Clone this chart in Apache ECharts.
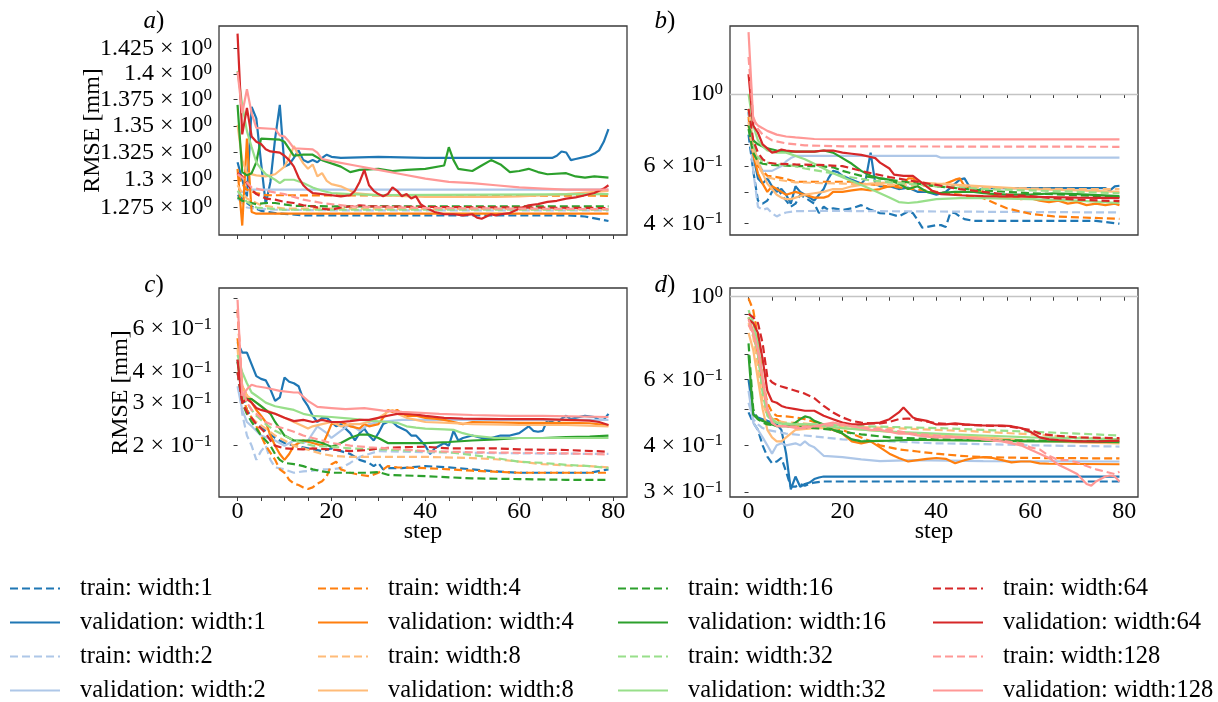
<!DOCTYPE html>
<html><head><meta charset="utf-8">
<script src="https://cdn.jsdelivr.net/npm/echarts@6/dist/echarts.min.js"></script>
<style>html,body{margin:0;padding:0;background:#fff}#chart{width:1218px;height:702px}</style>
</head><body><div id="chart"></div><script>
// ---------------- data: [step, RMSE] ----------------
// panel a
const A_T1=[[0,1.286],[1,1.283],[2,1.279],[3,1.276],[5,1.272],[8,1.270],[14,1.268],[40,1.268],[70,1.268],[74,1.267],[79,1.263]];
const A_V1=[[0,1.316],[1,1.300],[2,1.285],[3,1.368],[4,1.357],[5,1.316],[6,1.278],[7,1.298],[8,1.338],[9,1.370],[10,1.312],[11,1.314],[12,1.320],[13,1.327],[14,1.318],[15,1.316],[16,1.318],[17,1.316],[18,1.320],[19,1.323],[20,1.321],[22,1.320],[30,1.321],[40,1.320],[50,1.320],[60,1.320],[67,1.320],[68,1.322],[69,1.326],[70,1.325],[71,1.318],[72,1.319],[74,1.321],[75,1.322],[76,1.324],[77,1.327],[78,1.335],[79,1.347]];
const A_T2=[[0,1.283],[1,1.279],[2,1.275],[4,1.274],[8,1.273],[20,1.2725],[79,1.2725]];
const A_V2=[[0,1.288],[1,1.289],[2,1.290],[3,1.291],[79,1.291]];
const A_T4=[[0,1.305],[1,1.296],[2,1.291],[4,1.288],[6,1.286],[79,1.2855]];
const A_V4=[[0,1.310],[1,1.259],[2,1.338],[3,1.271],[4,1.2695],[79,1.2695]];
const A_T8=[[0,1.295],[1,1.288],[2,1.283],[5,1.277],[10,1.274],[79,1.2735]];
const A_V8=[[0,1.351],[1,1.318],[2,1.306],[4,1.304],[6,1.303],[8,1.305],[10,1.312],[11,1.320],[12,1.331],[13,1.322],[14,1.315],[15,1.310],[16,1.314],[17,1.303],[18,1.306],[19,1.299],[20,1.296],[22,1.294],[25,1.288],[30,1.286],[40,1.2845],[55,1.2845],[60,1.285],[70,1.287],[79,1.290]];
const A_T16=[[0,1.284],[1,1.281],[2,1.280],[4,1.278],[6,1.279],[8,1.279],[12,1.2765],[20,1.276],[79,1.276]];
const A_V16=[[0,1.370],[1,1.307],[2,1.304],[3,1.306],[4,1.316],[5,1.338],[9,1.337],[10,1.335],[12,1.322],[14,1.323],[16,1.323],[18,1.318],[20,1.315],[22,1.312],[24,1.307],[26,1.309],[30,1.310],[33,1.308],[36,1.309],[40,1.310],[44,1.313],[45,1.330],[46,1.318],[47,1.310],[50,1.308],[52,1.313],[54,1.318],[56,1.314],[58,1.307],[60,1.308],[62,1.310],[64,1.307],[66,1.305],[70,1.306],[72,1.303],[74,1.302],[76,1.303],[79,1.302]];
const A_T32=[[0,1.290],[2,1.280],[4,1.275],[10,1.273],[79,1.273]];
const A_V32=[[0,1.403],[1,1.370],[2,1.345],[3,1.330],[4,1.316],[5,1.310],[6,1.305],[8,1.300],[9,1.297],[10,1.300],[12,1.300],[14,1.297],[16,1.293],[18,1.290],[20,1.288],[24,1.287],[30,1.286],[79,1.287]];
const A_T64=[[0,1.306],[1,1.303],[2,1.297],[3,1.291],[4,1.287],[5,1.285],[6,1.283],[8,1.282],[10,1.280],[12,1.279],[14,1.277],[16,1.276],[18,1.274],[20,1.273],[22,1.275],[26,1.277],[28,1.276],[40,1.2755],[79,1.2745]];
const A_V64=[[0,1.440],[1,1.342],[2,1.367],[3,1.340],[4,1.335],[5,1.333],[6,1.328],[7,1.326],[9,1.325],[10,1.322],[11,1.318],[12,1.312],[13,1.302],[14,1.295],[15,1.291],[16,1.288],[18,1.287],[20,1.286],[22,1.285],[24,1.286],[25,1.290],[26,1.298],[27,1.309],[28,1.295],[29,1.290],[30,1.287],[31,1.285],[32,1.287],[33,1.293],[34,1.290],[35,1.285],[36,1.287],[37,1.283],[38,1.285],[39,1.278],[40,1.275],[42,1.271],[44,1.269],[46,1.269],[48,1.268],[50,1.269],[51,1.266],[52,1.265],[53,1.267],[54,1.269],[55,1.268],[56,1.269],[58,1.270],[60,1.274],[62,1.277],[64,1.278],[66,1.280],[68,1.281],[70,1.283],[72,1.284],[74,1.286],[76,1.288],[78,1.292],[79,1.295]];
const A_T128=[[0,1.305],[1,1.302],[3,1.293],[6,1.290],[10,1.287],[14,1.282],[18,1.279],[24,1.276],[40,1.2745],[79,1.2735]];
const A_V128=[[0,1.402],[1,1.362],[2,1.385],[3,1.362],[4,1.348],[8,1.347],[9,1.341],[10,1.340],[11,1.335],[12,1.329],[16,1.328],[17,1.325],[18,1.319],[20,1.317],[25,1.313],[30,1.309],[35,1.305],[40,1.301],[45,1.298],[50,1.297],[55,1.295],[60,1.293],[65,1.292],[70,1.291],[79,1.291]];
// panel b
const B_T1=[[0,0.75],[1,0.58],[2,0.47],[3,0.46],[4,0.47],[5,0.50],[6,0.52],[7,0.49],[8,0.47],[9,0.45],[10,0.46],[11,0.49],[12,0.48],[13,0.47],[14,0.46],[15,0.43],[16,0.45],[17,0.44],[18,0.445],[20,0.44],[22,0.445],[24,0.455],[26,0.44],[28,0.43],[30,0.428],[32,0.42],[34,0.435],[35,0.43],[36,0.41],[37,0.388],[38,0.39],[40,0.395],[41,0.395],[42,0.39],[43,0.432],[44,0.43],[45,0.42],[46,0.412],[48,0.407],[60,0.407],[74,0.407],[79,0.399]];
const B_V1=[[0,0.88],[1,0.645],[2,0.55],[3,0.53],[4,0.55],[5,0.52],[6,0.50],[7,0.51],[8,0.49],[9,0.46],[10,0.52],[11,0.50],[12,0.49],[13,0.48],[14,0.47],[15,0.49],[16,0.51],[17,0.55],[18,0.58],[19,0.575],[20,0.56],[22,0.545],[24,0.53],[25,0.55],[26,0.66],[27,0.53],[28,0.52],[30,0.52],[32,0.51],[34,0.515],[36,0.50],[38,0.50],[40,0.49],[42,0.50],[44,0.53],[45,0.545],[46,0.55],[47,0.52],[48,0.50],[50,0.513],[60,0.513],[76,0.513],[77,0.505],[78,0.52],[79,0.522]];
const B_T2=[[0,0.84],[1,0.58],[2,0.45],[3,0.44],[4,0.445],[5,0.43],[6,0.42],[7,0.427],[8,0.432],[10,0.436],[15,0.437],[40,0.435],[79,0.432]];
const B_V2=[[0,0.88],[1,0.70],[2,0.62],[3,0.58],[5,0.58],[7,0.60],[8,0.62],[9,0.635],[10,0.645],[40,0.645],[41,0.637],[79,0.637]];
const B_T4=[[0,0.85],[1,0.66],[2,0.60],[4,0.56],[6,0.555],[8,0.548],[10,0.537],[22,0.537],[24,0.53],[30,0.52],[40,0.50],[45,0.49],[50,0.478],[55,0.445],[60,0.428],[65,0.42],[79,0.413]];
const B_V4=[[0,0.80],[1,0.65],[2,0.57],[3,0.53],[4,0.50],[5,0.52],[6,0.51],[7,0.50],[8,0.49],[10,0.50],[12,0.49],[14,0.48],[16,0.48],[17,0.485],[18,0.50],[20,0.50],[22,0.505],[24,0.51],[26,0.505],[28,0.51],[30,0.52],[33,0.525],[34,0.55],[35,0.55],[36,0.535],[38,0.52],[40,0.525],[42,0.53],[44,0.545],[45,0.55],[46,0.52],[48,0.505],[50,0.50],[52,0.49],[54,0.48],[56,0.485],[58,0.475],[60,0.478],[62,0.47],[64,0.465],[66,0.47],[68,0.46],[70,0.465],[72,0.455],[74,0.46],[76,0.455],[78,0.46],[79,0.455]];
const B_T8=[[0,0.82],[1,0.66],[2,0.60],[3,0.57],[4,0.555],[6,0.545],[8,0.54],[10,0.535],[20,0.53],[30,0.525],[40,0.52],[50,0.515],[60,0.512],[70,0.51],[79,0.51]];
const B_V8=[[0,0.90],[1,0.70],[2,0.62],[3,0.57],[4,0.53],[5,0.51],[6,0.49],[7,0.48],[8,0.475],[9,0.475],[10,0.48],[12,0.49],[14,0.495],[16,0.50],[18,0.51],[20,0.51],[22,0.52],[24,0.525],[26,0.53],[30,0.535],[36,0.535],[40,0.53],[50,0.52],[60,0.51],[70,0.505],[79,0.50]];
const B_T16=[[0,0.78],[1,0.66],[2,0.62],[3,0.61],[5,0.605],[10,0.60],[15,0.60],[18,0.595],[20,0.58],[24,0.56],[28,0.55],[32,0.54],[40,0.52],[50,0.505],[60,0.495],[70,0.488],[79,0.482]];
const B_V16=[[0,0.80],[1,0.72],[2,0.70],[3,0.69],[4,0.68],[6,0.67],[8,0.665],[14,0.665],[16,0.67],[18,0.66],[20,0.635],[22,0.61],[24,0.58],[26,0.56],[28,0.55],[30,0.545],[32,0.53],[34,0.51],[36,0.52],[38,0.50],[40,0.495],[44,0.50],[48,0.50],[50,0.495],[55,0.49],[60,0.49],[65,0.495],[70,0.492],[79,0.485]];
const B_T32=[[0,0.90],[1,0.70],[2,0.64],[3,0.62],[5,0.61],[8,0.605],[10,0.60],[12,0.59],[15,0.58],[18,0.57],[20,0.56],[25,0.545],[30,0.535],[40,0.52],[50,0.51],[60,0.505],[70,0.50],[79,0.495]];
const B_V32=[[0,1.0],[1,0.80],[2,0.72],[3,0.69],[4,0.67],[6,0.66],[8,0.66],[10,0.645],[12,0.63],[14,0.61],[16,0.59],[18,0.57],[20,0.555],[22,0.54],[24,0.525],[26,0.51],[28,0.495],[30,0.48],[32,0.465],[34,0.462],[36,0.465],[38,0.47],[40,0.475],[45,0.478],[50,0.478],[60,0.475],[70,0.47],[79,0.462]];
const B_T64=[[0,0.90],[1,0.72],[2,0.66],[3,0.63],[4,0.615],[6,0.61],[10,0.607],[15,0.605],[20,0.60],[22,0.59],[25,0.575],[30,0.555],[35,0.54],[40,0.525],[45,0.51],[50,0.50],[55,0.49],[60,0.485],[65,0.478],[70,0.473],[79,0.468]];
const B_V64=[[0,1.15],[1,0.80],[2,0.76],[3,0.70],[4,0.68],[5,0.66],[6,0.665],[7,0.675],[8,0.67],[10,0.665],[14,0.665],[16,0.67],[18,0.67],[20,0.66],[22,0.655],[24,0.65],[26,0.64],[27,0.635],[28,0.615],[30,0.59],[31,0.565],[33,0.56],[35,0.56],[37,0.532],[39,0.505],[41,0.492],[45,0.488],[50,0.485],[60,0.483],[70,0.48],[79,0.478]];
const B_T128=[[0,1.30],[1,0.85],[2,0.78],[3,0.75],[5,0.72],[8,0.705],[12,0.695],[20,0.69],[79,0.688]];
const B_V128=[[0,1.55],[1,0.83],[2,0.80],[3,0.785],[4,0.77],[6,0.75],[8,0.74],[10,0.735],[14,0.727],[20,0.725],[79,0.725]];
// panel c
const C_T1=[[0,0.45],[1,0.32],[2,0.28],[3,0.26],[4,0.245],[6,0.23],[8,0.215],[10,0.205],[12,0.20],[15,0.195],[18,0.19],[20,0.195],[22,0.19],[24,0.185],[26,0.175],[28,0.17],[29,0.165],[30,0.17],[31,0.16],[32,0.162],[35,0.162],[40,0.165],[45,0.163],[50,0.16],[55,0.157],[60,0.155],[70,0.155],[75,0.155],[79,0.16]];
const C_V1=[[0,0.53],[1,0.48],[2,0.48],[3,0.43],[4,0.385],[5,0.375],[6,0.37],[7,0.34],[8,0.305],[9,0.315],[10,0.38],[11,0.365],[12,0.36],[13,0.35],[14,0.31],[15,0.29],[16,0.265],[17,0.25],[18,0.26],[19,0.26],[20,0.25],[21,0.24],[22,0.245],[24,0.225],[25,0.21],[26,0.225],[27,0.235],[28,0.22],[29,0.21],[30,0.225],[31,0.245],[32,0.25],[33,0.25],[34,0.24],[35,0.235],[36,0.23],[37,0.22],[38,0.22],[39,0.21],[40,0.20],[41,0.185],[42,0.195],[43,0.20],[44,0.205],[45,0.20],[46,0.23],[47,0.21],[48,0.215],[50,0.22],[52,0.215],[54,0.215],[56,0.22],[58,0.22],[60,0.225],[62,0.24],[63,0.23],[64,0.228],[65,0.23],[66,0.255],[67,0.25],[68,0.245],[69,0.258],[70,0.265],[71,0.257],[72,0.26],[74,0.265],[76,0.262],[77,0.255],[78,0.255],[79,0.27]];
const C_T2=[[0,0.40],[1,0.27],[2,0.22],[3,0.20],[4,0.175],[5,0.19],[6,0.20],[7,0.175],[8,0.163],[10,0.16],[12,0.155],[14,0.157],[16,0.158],[18,0.16],[20,0.16],[22,0.162],[24,0.17],[26,0.18],[28,0.185],[30,0.19],[40,0.188],[50,0.187],[60,0.186],[79,0.185]];
const C_V2=[[0,0.35],[1,0.28],[2,0.25],[3,0.24],[5,0.22],[8,0.21],[10,0.20],[12,0.21],[14,0.205],[15,0.21],[17,0.24],[19,0.225],[20,0.215],[22,0.23],[24,0.245],[26,0.23],[28,0.245],[30,0.25],[35,0.255],[79,0.255]];
const C_T4=[[0,0.72],[1,0.32],[2,0.28],[3,0.26],[4,0.24],[5,0.22],[6,0.20],[8,0.175],[9,0.16],[10,0.155],[11,0.145],[12,0.14],[13,0.138],[14,0.135],[15,0.133],[16,0.135],[17,0.14],[18,0.143],[19,0.15],[20,0.168],[21,0.172],[22,0.16],[24,0.155],[26,0.152],[28,0.15],[30,0.155],[32,0.165],[34,0.163],[40,0.162],[50,0.158],[60,0.155],[70,0.155],[79,0.155]];
const C_V4=[[0,0.55],[1,0.35],[2,0.32],[3,0.30],[4,0.28],[5,0.265],[6,0.25],[7,0.22],[8,0.20],[9,0.185],[10,0.175],[11,0.185],[12,0.20],[14,0.21],[16,0.205],[18,0.20],[19,0.22],[20,0.245],[22,0.25],[24,0.24],[26,0.235],[27,0.245],[28,0.24],[30,0.245],[31,0.26],[32,0.28],[33,0.275],[34,0.28],[35,0.27],[36,0.265],[38,0.265],[40,0.26],[42,0.258],[44,0.255],[46,0.25],[48,0.245],[50,0.25],[60,0.248],[70,0.248],[75,0.247],[79,0.242]];
const C_T8=[[0,0.50],[1,0.30],[2,0.27],[4,0.25],[6,0.235],[8,0.22],[10,0.21],[12,0.20],[14,0.195],[16,0.19],[18,0.185],[20,0.182],[24,0.18],[40,0.18],[50,0.178],[55,0.176],[60,0.172],[65,0.168],[70,0.166],[75,0.165],[79,0.163]];
const C_V8=[[0,0.45],[1,0.35],[2,0.32],[3,0.31],[4,0.30],[5,0.29],[6,0.28],[8,0.27],[10,0.26],[12,0.25],[14,0.24],[15,0.235],[16,0.24],[18,0.245],[20,0.25],[22,0.24],[24,0.245],[26,0.245],[28,0.25],[30,0.26],[32,0.275],[33,0.28],[34,0.27],[36,0.26],[38,0.255],[40,0.25],[45,0.248],[50,0.245],[60,0.243],[70,0.243],[79,0.24]];
const C_T16=[[0,0.40],[1,0.30],[2,0.27],[3,0.25],[4,0.235],[5,0.22],[6,0.21],[7,0.20],[8,0.185],[9,0.175],[10,0.17],[12,0.168],[14,0.165],[16,0.16],[18,0.157],[20,0.155],[28,0.155],[30,0.156],[32,0.152],[40,0.15],[50,0.147],[60,0.146],[70,0.145],[79,0.145]];
const C_V16=[[0,0.44],[1,0.32],[2,0.31],[3,0.31],[4,0.30],[5,0.29],[6,0.28],[7,0.27],[8,0.25],[9,0.235],[10,0.22],[11,0.215],[12,0.21],[14,0.21],[16,0.21],[18,0.205],[20,0.198],[22,0.205],[24,0.215],[26,0.222],[28,0.222],[30,0.215],[32,0.205],[36,0.205],[40,0.205],[45,0.207],[50,0.21],[55,0.212],[60,0.215],[65,0.215],[70,0.217],[75,0.218],[79,0.22]];
const C_T32=[[0,0.40],[1,0.32],[2,0.30],[3,0.28],[4,0.265],[5,0.255],[6,0.245],[8,0.23],[10,0.22],[12,0.21],[14,0.205],[16,0.20],[20,0.198],[24,0.195],[30,0.193],[40,0.19],[45,0.188],[50,0.183],[55,0.178],[60,0.172],[65,0.17],[70,0.167],[75,0.165],[79,0.162]];
const C_V32=[[0,0.47],[1,0.40],[2,0.36],[3,0.33],[4,0.32],[5,0.31],[6,0.30],[8,0.29],[10,0.285],[12,0.28],[14,0.27],[16,0.265],[20,0.262],[24,0.258],[28,0.253],[32,0.25],[34,0.248],[36,0.24],[38,0.237],[40,0.235],[44,0.233],[46,0.232],[48,0.225],[50,0.22],[55,0.215],[79,0.215]];
const C_T64=[[0,0.40],[1,0.30],[2,0.275],[3,0.26],[4,0.245],[5,0.235],[6,0.225],[7,0.21],[8,0.20],[10,0.195],[14,0.193],[16,0.195],[20,0.193],[24,0.19],[28,0.192],[30,0.195],[35,0.197],[40,0.198],[45,0.195],[55,0.195],[60,0.193],[70,0.192],[79,0.189]];
const C_V64=[[0,0.45],[1,0.30],[2,0.31],[3,0.30],[4,0.285],[5,0.28],[6,0.277],[8,0.27],[10,0.26],[12,0.252],[14,0.255],[16,0.25],[18,0.255],[20,0.25],[22,0.25],[24,0.252],[26,0.255],[28,0.255],[30,0.26],[32,0.265],[34,0.27],[36,0.27],[38,0.268],[40,0.265],[44,0.26],[48,0.258],[56,0.257],[65,0.257],[70,0.255],[75,0.253],[77,0.25],[79,0.243]];
const C_T128=[[0,0.72],[1,0.34],[2,0.30],[3,0.28],[4,0.27],[5,0.26],[6,0.25],[8,0.24],[10,0.235],[12,0.228],[14,0.22],[16,0.215],[18,0.21],[20,0.205],[24,0.20],[28,0.197],[32,0.195],[40,0.19],[50,0.188],[60,0.187],[70,0.186],[79,0.184]];
const C_V128=[[0,0.79],[1,0.32],[2,0.34],[3,0.355],[4,0.35],[6,0.345],[9,0.335],[12,0.33],[13,0.33],[15,0.305],[17,0.288],[20,0.285],[23,0.282],[27,0.285],[31,0.278],[35,0.275],[43,0.27],[50,0.267],[58,0.265],[65,0.265],[79,0.262]];
// panel d
const D_T1=[[0,0.49],[1,0.46],[2,0.44],[3,0.40],[4,0.373],[5,0.358],[6,0.362],[7,0.37],[8,0.34],[9,0.31],[10,0.31],[11,0.315],[12,0.312],[14,0.318],[16,0.32],[79,0.32]];
const D_V1=[[0,0.60],[1,0.485],[2,0.475],[3,0.47],[4,0.465],[5,0.46],[6,0.455],[7,0.44],[8,0.38],[9,0.305],[10,0.33],[11,0.31],[12,0.315],[13,0.318],[14,0.325],[15,0.328],[16,0.33],[79,0.33]];
const D_T2=[[0,0.52],[1,0.47],[2,0.455],[3,0.445],[4,0.44],[6,0.435],[8,0.43],[12,0.425],[16,0.42],[20,0.415],[30,0.41],[40,0.405],[50,0.403],[60,0.40],[79,0.397]];
const D_V2=[[0,0.56],[1,0.46],[2,0.44],[3,0.42],[4,0.40],[5,0.38],[6,0.40],[7,0.405],[8,0.40],[10,0.405],[11,0.40],[12,0.41],[13,0.40],[14,0.395],[15,0.385],[16,0.375],[20,0.372],[24,0.367],[28,0.363],[35,0.365],[50,0.363],[79,0.362]];
const D_T4=[[0,0.99],[1,0.92],[2,0.78],[3,0.60],[4,0.52],[5,0.49],[6,0.48],[8,0.478],[10,0.475],[12,0.47],[14,0.462],[16,0.455],[18,0.448],[20,0.44],[22,0.43],[24,0.42],[26,0.41],[28,0.40],[30,0.395],[32,0.39],[36,0.385],[40,0.38],[45,0.375],[50,0.372],[60,0.37],[79,0.369]];
const D_V4=[[0,0.88],[1,0.80],[2,0.70],[3,0.58],[4,0.49],[5,0.47],[6,0.47],[7,0.46],[8,0.45],[10,0.45],[12,0.455],[14,0.45],[16,0.445],[18,0.44],[20,0.43],[22,0.41],[24,0.405],[26,0.41],[28,0.395],[30,0.38],[32,0.37],[34,0.362],[36,0.365],[38,0.368],[40,0.37],[42,0.368],[44,0.358],[46,0.365],[48,0.37],[50,0.372],[52,0.37],[54,0.365],[56,0.36],[58,0.362],[60,0.362],[62,0.358],[64,0.357],[79,0.356]];
const D_T8=[[0,0.85],[1,0.78],[2,0.65],[3,0.52],[4,0.48],[6,0.465],[8,0.46],[10,0.46],[14,0.455],[20,0.45],[30,0.445],[40,0.44],[50,0.435],[60,0.428],[70,0.42],[79,0.415]];
const D_V8=[[0,0.80],[1,0.72],[2,0.60],[3,0.50],[4,0.44],[5,0.42],[6,0.41],[7,0.41],[8,0.42],[9,0.43],[10,0.44],[14,0.445],[20,0.445],[25,0.44],[30,0.435],[40,0.425],[50,0.42],[60,0.412],[70,0.407],[79,0.405]];
const D_T16=[[0,0.75],[1,0.50],[2,0.47],[3,0.46],[4,0.455],[6,0.452],[8,0.45],[10,0.448],[14,0.445],[18,0.44],[20,0.435],[24,0.428],[30,0.42],[40,0.415],[50,0.413],[60,0.412],[79,0.41]];
const D_V16=[[0,0.70],[1,0.483],[2,0.47],[3,0.465],[4,0.46],[5,0.455],[6,0.45],[8,0.45],[10,0.46],[11,0.47],[12,0.478],[13,0.475],[14,0.465],[16,0.455],[18,0.44],[20,0.43],[22,0.415],[24,0.41],[30,0.412],[35,0.414],[40,0.413],[50,0.412],[60,0.41],[70,0.41],[79,0.408]];
const D_T32=[[0,0.88],[1,0.80],[2,0.70],[3,0.55],[4,0.48],[5,0.465],[6,0.46],[8,0.458],[10,0.455],[15,0.455],[20,0.452],[30,0.448],[40,0.445],[50,0.44],[60,0.435],[70,0.43],[79,0.425]];
const D_V32=[[0,0.92],[1,0.85],[2,0.75],[3,0.60],[4,0.50],[5,0.47],[6,0.46],[8,0.455],[14,0.455],[16,0.45],[18,0.448],[20,0.445],[25,0.44],[30,0.435],[40,0.43],[50,0.425],[60,0.42],[70,0.418],[79,0.415]];
const D_T64=[[0,0.90],[1,0.88],[2,0.85],[3,0.75],[4,0.61],[5,0.59],[6,0.58],[7,0.575],[8,0.57],[10,0.56],[12,0.55],[14,0.535],[16,0.51],[18,0.49],[20,0.475],[22,0.465],[24,0.46],[26,0.458],[28,0.458],[30,0.462],[32,0.47],[34,0.472],[36,0.468],[40,0.458],[45,0.455],[50,0.452],[55,0.45],[60,0.44],[62,0.43],[65,0.425],[70,0.42],[79,0.418]];
const D_V64=[[0,0.87],[1,0.85],[2,0.80],[3,0.68],[4,0.56],[5,0.525],[6,0.52],[7,0.51],[8,0.505],[10,0.50],[12,0.495],[14,0.495],[16,0.48],[18,0.47],[20,0.46],[22,0.455],[24,0.455],[26,0.458],[28,0.46],[30,0.47],[32,0.49],[33,0.505],[34,0.49],[35,0.475],[36,0.47],[38,0.465],[40,0.455],[42,0.455],[44,0.458],[46,0.455],[50,0.452],[54,0.452],[56,0.45],[58,0.445],[60,0.435],[62,0.42],[64,0.415],[66,0.413],[70,0.41],[75,0.41],[79,0.412]];
const D_T128=[[0,0.84],[1,0.80],[2,0.72],[3,0.60],[4,0.50],[5,0.46],[6,0.45],[8,0.45],[10,0.448],[15,0.45],[20,0.455],[25,0.445],[30,0.44],[35,0.43],[40,0.425],[45,0.42],[50,0.415],[55,0.41],[58,0.405],[60,0.395],[62,0.39],[64,0.375],[66,0.365],[68,0.365],[70,0.36],[72,0.352],[74,0.345],[76,0.34],[78,0.335],[79,0.34]];
const D_V128=[[0,0.87],[1,0.80],[2,0.72],[3,0.60],[4,0.50],[5,0.46],[6,0.45],[8,0.45],[10,0.445],[12,0.445],[14,0.45],[16,0.455],[18,0.46],[20,0.455],[22,0.45],[24,0.445],[26,0.44],[28,0.44],[30,0.435],[32,0.43],[34,0.43],[36,0.425],[38,0.422],[40,0.42],[44,0.42],[48,0.418],[52,0.412],[54,0.41],[56,0.405],[58,0.40],[60,0.39],[62,0.38],[64,0.37],[66,0.355],[68,0.345],[70,0.335],[72,0.315],[73,0.312],[74,0.32],[75,0.325],[76,0.33],[77,0.332],[78,0.33],[79,0.32]];

// ---------------- categories / ticks ----------------
const WIDTHS=[1,2,4,8,16,32,64,128];
const COLORS=['#1f77b4','#aec7e8','#ff7f0e','#ffbb78','#2ca02c','#98df8a','#d62728','#ff9896'];
const PANEL_LABELS=['a','b','c','d'];
const X_TICKS=[0,5,10,15,20,25,30,35,40,45,50,55,60,65,70,75,80];
const X_LABELS=[0,20,40,60,80];
const A_YTICKS=[1.275,1.3,1.325,1.35,1.375,1.4,1.425];
const A_YLABELS=[1.275,1.3,1.325,1.35,1.375,1.4,1.425];
const B_YTICKS=[0.4,0.5,0.6,0.7,0.8,0.9,1.0];
const B_YLABELS=[0.4,0.6,1.0];
const C_YTICKS=[0.2,0.3,0.4,0.5,0.6,0.7,0.8];
const C_YLABELS=[0.2,0.3,0.4,0.6];
const D_YTICKS=[0.3,0.4,0.5,0.6,0.7,0.8,0.9,1.0];
const D_YLABELS=[0.3,0.4,0.6,1.0];

const PANEL_DATA={
 a:{T:[A_T1,A_T2,A_T4,A_T8,A_T16,A_T32,A_T64,A_T128],V:[A_V1,A_V2,A_V4,A_V8,A_V16,A_V32,A_V64,A_V128],ticks:A_YTICKS,labels:A_YLABELS},
 b:{T:[B_T1,B_T2,B_T4,B_T8,B_T16,B_T32,B_T64,B_T128],V:[B_V1,B_V2,B_V4,B_V8,B_V16,B_V32,B_V64,B_V128],ticks:B_YTICKS,labels:B_YLABELS},
 c:{T:[C_T1,C_T2,C_T4,C_T8,C_T16,C_T32,C_T64,C_T128],V:[C_V1,C_V2,C_V4,C_V8,C_V16,C_V32,C_V64,C_V128],ticks:C_YTICKS,labels:C_YLABELS},
 d:{T:[D_T1,D_T2,D_T4,D_T8,D_T16,D_T32,D_T64,D_T128],V:[D_V1,D_V2,D_V4,D_V8,D_V16,D_V32,D_V64,D_V128],ticks:D_YTICKS,labels:D_YLABELS}
};

// ---------------- layout / style ----------------
const FONT="'Liberation Serif','DejaVu Serif',serif";
const FS=24;
const GRIDS=[{left:219,top:26,width:408,height:209},{left:730,top:26,width:408,height:209},{left:219,top:288,width:408,height:209},{left:730,top:288,width:408,height:209}];
// log10 extents of the y axes
const YRANGE=[[0.09715,0.16068],[-0.4338,0.2092],[-0.9089,-0.0541],[-0.5363,0.0233]];
const XMIN=-3.95, XMAX=82.95;
const FRAME='#3a3a3a';

function sciLabel(lv){
  let e=Math.floor(lv+1e-9);
  let m=parseFloat((Math.pow(10,lv)/Math.pow(10,e)).toFixed(3));
  if(m>=10){m=parseFloat((m/10).toFixed(3));e+=1;}
  const es=e<0?'\u2212'+(-e):String(e);
  return (Math.abs(m-1)<1e-9?'':'{m|'+m+'}{x|\u00d7}')+'{m|10}{s|'+es+'}';
}
const log=v=>Math.log10(v);

const grid=GRIDS.map(g=>Object.assign({show:true,borderColor:FRAME,borderWidth:1.3,backgroundColor:'transparent'},g));
const xAxis=[],yAxis=[],series=[];
PANEL_LABELS.forEach((p,i)=>{
  const bottom=i>=2;
  xAxis.push({type:'value',gridIndex:i,min:XMIN,max:XMAX,
    axisLine:{show:false},splitLine:{show:false},
    axisTick:{show:true,customValues:X_TICKS,length:4,lineStyle:{color:FRAME,width:1}},
    axisLabel:{show:bottom,customValues:X_LABELS,fontFamily:FONT,fontSize:FS,color:'#000',margin:3},
    name:bottom?'step':'',nameLocation:'middle',nameGap:23,nameMoveOverlap:false,
    nameTextStyle:{fontFamily:FONT,fontSize:FS,color:'#000'}});
  const pd=PANEL_DATA[p];
  yAxis.push({type:'value',gridIndex:i,min:YRANGE[i][0],max:YRANGE[i][1],
    axisLine:{show:false},splitLine:{show:false},
    axisTick:{show:true,customValues:pd.ticks.map(log),length:4,lineStyle:{color:FRAME,width:1}},
    axisLabel:{customValues:pd.labels.map(log),formatter:sciLabel,margin:7,
      rich:{m:{fontFamily:FONT,fontSize:FS,color:'#000',lineHeight:26},
            x:{fontFamily:FONT,fontSize:FS,color:'#000',lineHeight:26,padding:[0,6,0,6]},
            s:{fontFamily:FONT,fontSize:17,color:'#000',lineHeight:14,verticalAlign:'top'}}},
    name:(i%2===0)?'RMSE [mm]':'',nameLocation:'middle',nameGap:(i===0?114:86),nameMoveOverlap:false,
    nameTextStyle:{fontFamily:FONT,fontSize:FS,color:'#000'}});
  WIDTHS.forEach((w,k)=>{
    ['T','V'].forEach(kind=>{
      const s={type:'line',name:(kind==='T'?'train':'validation')+': width:'+w,
        xAxisIndex:i,yAxisIndex:i,symbol:'none',showSymbol:false,silent:true,
        data:pd[kind][k].map(q=>[q[0],log(q[1])]),
        lineStyle:{color:COLORS[k],width:2.2,type:kind==='T'?[8,4]:'solid'},
        itemStyle:{color:COLORS[k]}};
      if((i===1||i===3)&&k===0&&kind==='T'){
        s.markLine={silent:true,symbol:'none',z:1,label:{show:false},
          lineStyle:{color:'#c4c4c4',width:1.3,type:'solid'},data:[{yAxis:0}]};
      }
      series.push(s);
    });
  });
});

// one legend component per entry, laid out as 4 columns x 4 rows
const LEG_COLS=[9,317,617,932];
const LEG_ROWS=[576,610,644,678];
const legend=[];
LEG_COLS.forEach((x,c)=>{
  const names=[];
  [0,1].forEach(j=>{const w=WIDTHS[c*2+j];names.push('train: width:'+w,'validation: width:'+w);});
  names.forEach((nm,r)=>{
    legend.push({orient:'horizontal',left:x,top:LEG_ROWS[r],padding:0,itemWidth:50,itemHeight:14,selectedMode:false,
      itemStyle:{opacity:0},
      textStyle:{fontFamily:FONT,fontSize:24.5,color:'#000',lineHeight:24,padding:[0,0,0,15]},data:[nm]});
  });
});

const graphic=[[154,21],[665,21],[154,285],[665,285]].map((pos,i)=>({
  type:'text',x:pos[0],y:pos[1],
  style:{text:'{i|'+PANEL_LABELS[i]+'}{n|)}',align:'center',verticalAlign:'middle',
    rich:{i:{fontFamily:FONT,fontSize:25,fontStyle:'italic',fill:'#000'},n:{fontFamily:FONT,fontSize:25,fill:'#000'}}}
}));

const chart=echarts.init(document.getElementById('chart'),null,{renderer:'canvas'});
chart.setOption({animation:false,backgroundColor:'#fff',grid,xAxis,yAxis,series,legend,graphic});
</script></body></html>
